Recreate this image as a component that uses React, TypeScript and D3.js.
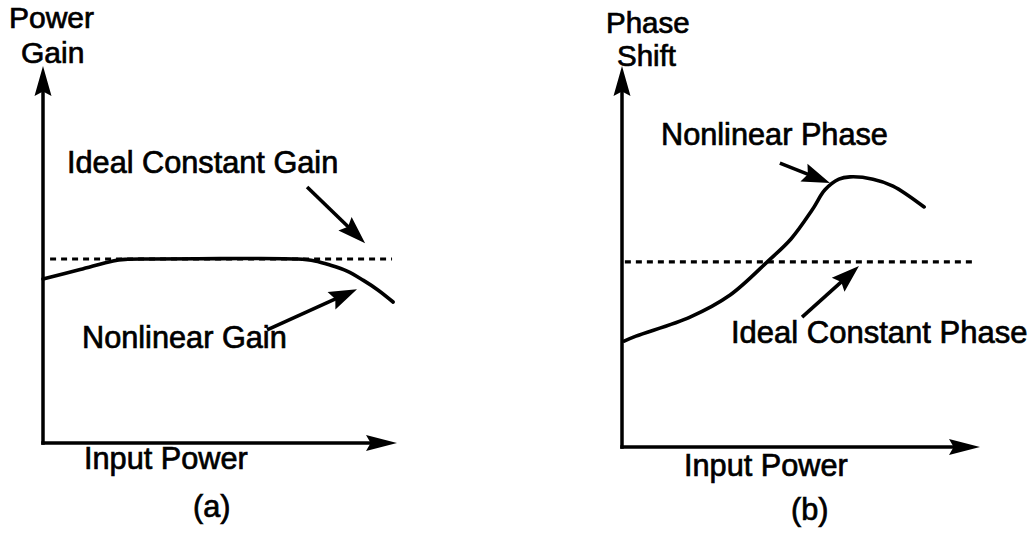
import React from "react";
import * as d3 from "d3";

// Normalised input power (0–100 along the horizontal axis)
const gainInput = [0, 10.5, 19.8, 23.2, 30.2, 50, 71.8, 76.8, 81.1, 85.9, 90.4, 94.6, 98.9];
// Nonlinear power gain (AM/AM) in the same normalised units
const gainValues = [43.5, 46.0, 48.3, 48.7, 48.8, 48.9, 48.8, 48.3, 47.2, 45.6, 43.2, 40.6, 37.4];
const idealGain = 48.8;
const idealGainSpan = [2, 98.6];

const phaseInput = [0.6, 3.9, 19, 30.2, 40.8, 47.2, 53.1, 56.7, 60.6, 63.7, 70.1, 75.7, 84.4];
// Nonlinear phase shift (AM/PM)
const phaseValues = [27.8, 29.1, 34.1, 39.9, 48.8, 54.6, 62.2, 67.5, 70.3, 70.9, 70.3, 68.5, 63];
const idealPhase = 48.6;
const idealPhaseSpan = [0.8, 98.6];

type Arrow = { from: [number, number]; to: [number, number] };

const gainArrows: Arrow[] = [
  { from: [74.6, 67.9], to: [91, 53] },
  { from: [63.3, 30], to: [88.7, 40.8] },
];
const phaseArrows: Arrow[] = [
  { from: [44.1, 74.5], to: [58.1, 69.3] },
  { from: [50.3, 34.1], to: [66.2, 47.5] },
];

const FONT = "'Liberation Sans', Arial, Helvetica, sans-serif";

type Label = { text: string; x: number; y: number; size?: number };

type PanelProps = {
  x0: number;
  x1: number;
  y0: number;
  y1: number;
  xs: number[];
  ys: number[];
  ideal: number;
  idealSpan: number[];
  arrows: Arrow[];
  labels: Label[];
  id: string;
};

function Panel({ x0, x1, y0, y1, xs, ys, ideal, idealSpan, arrows, labels, id }: PanelProps) {
  const x = d3.scaleLinear().domain([0, 100]).range([x0, x1]);
  const y = d3.scaleLinear().domain([0, 100]).range([y0, y1]);
  const line = d3
    .line<number>()
    .x((_, i) => x(xs[i]))
    .y((d) => y(d))
    .curve(d3.curveCatmullRom.alpha(0.5));

  const head = (tx: number, ty: number, fx: number, fy: number, len: number, half: number) => {
    const a = Math.atan2(ty - fy, tx - fx);
    const bx = tx - len * Math.cos(a);
    const by = ty - len * Math.sin(a);
    const px = -Math.sin(a) * half;
    const py = Math.cos(a) * half;
    return `M${tx},${ty}L${bx + px},${by + py}L${bx + len * 0.15 * Math.cos(a)},${by + len * 0.15 * Math.sin(a)}L${bx - px},${by - py}Z`;
  };

  return (
    <g>
      {/* axes */}
      <line x1={x(0)} y1={y(0) + 1.75} x2={x(0)} y2={y(100) + 20} stroke="#000" strokeWidth={3.5} />
      <line x1={x(0) - 1.75} y1={y(0)} x2={x(100) - 20} y2={y(0)} stroke="#000" strokeWidth={3.5} />
      <path d={head(x(0), y(100), x(0), y(0), 30, 8.5)} fill="#000" />
      <path d={head(x(100), y(0), x(0), y(0), 31, 8)} fill="#000" />

      {/* ideal constant response */}
      <line
        x1={x(idealSpan[0])}
        x2={x(idealSpan[1])}
        y1={y(ideal)}
        y2={y(ideal)}
        stroke="#000"
        strokeWidth={3.2}
        strokeDasharray="6,5"
      />

      {/* nonlinear response */}
      <path d={line(ys) ?? ""} fill="none" stroke="#000" strokeWidth={3.6} strokeLinecap="round" />

      {/* annotation arrows */}
      {arrows.map((a, i) => {
        const fx = x(a.from[0]);
        const fy = y(a.from[1]);
        const tx = x(a.to[0]);
        const ty = y(a.to[1]);
        const ang = Math.atan2(ty - fy, tx - fx);
        return (
          <g key={id + i}>
            <line
              x1={fx}
              y1={fy}
              x2={tx - 20 * Math.cos(ang)}
              y2={ty - 20 * Math.sin(ang)}
              stroke="#000"
              strokeWidth={3.6}
            />
            <path d={head(tx, ty, fx, fy, 28, 9.5)} fill="#000" />
          </g>
        );
      })}

      {labels.map((l, i) => (
        <text
          key={id + "t" + i}
          x={l.x}
          y={l.y}
          fontSize={l.size ?? 30.7}
          fontFamily={FONT}
          fill="#000"
          stroke="#000"
          strokeWidth={0.7}
        >
          {l.text}
        </text>
      ))}
    </g>
  );
}

export default function App() {
  return (
    <svg
      width={1032}
      height={539}
      viewBox="0 0 1032 539"
      style={{ position: "absolute", left: 0, top: 0, background: "#fff", display: "block" }}
    >
      <rect width={1032} height={539} fill="#fff" />
      <Panel
        id="a"
        x0={43}
        x1={397}
        y0={443}
        y1={66}
        xs={gainInput}
        ys={gainValues}
        ideal={idealGain}
        idealSpan={idealGainSpan}
        arrows={gainArrows}
        labels={[
          { text: "Power", x: 9, y: 28, size: 30 },
          { text: "Gain", x: 21, y: 63, size: 30 },
          { text: "Ideal Constant Gain", x: 67, y: 173 },
          { text: "Nonlinear Gain", x: 82, y: 348 },
          { text: "Input Power", x: 84, y: 469 },
          { text: "(a)", x: 193, y: 517 },
        ]}
      />
      <Panel
        id="b"
        x0={622}
        x1={980}
        y0={447}
        y1={66}
        xs={phaseInput}
        ys={phaseValues}
        ideal={idealPhase}
        idealSpan={idealPhaseSpan}
        arrows={phaseArrows}
        labels={[
          { text: "Phase", x: 606, y: 33, size: 29.5 },
          { text: "Shift", x: 617, y: 66, size: 29.5 },
          { text: "Nonlinear Phase", x: 661, y: 145 },
          { text: "Ideal Constant Phase", x: 731, y: 343, size: 31 },
          { text: "Input Power", x: 684, y: 476 },
          { text: "(b)", x: 791, y: 520 },
        ]}
      />
    </svg>
  );
}
